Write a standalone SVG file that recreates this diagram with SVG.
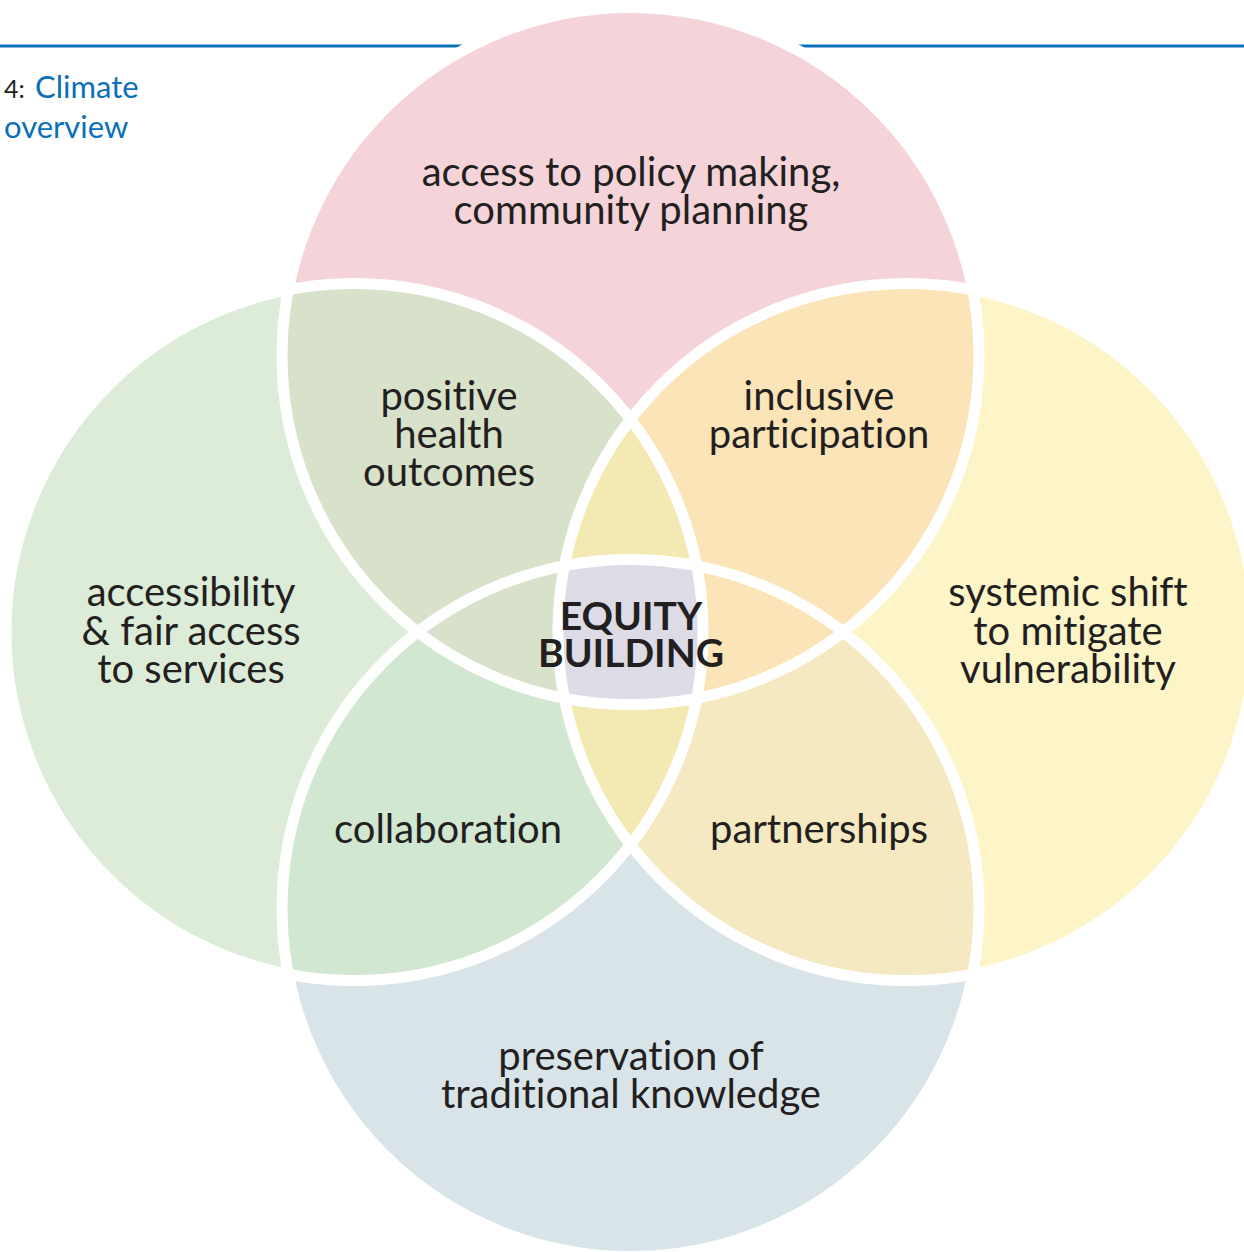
<svg xmlns="http://www.w3.org/2000/svg" width="1244" height="1252" viewBox="0 0 1244 1252">
  <style>
    text { font-variant-ligatures: none; font-feature-settings: "liga" 0, "dlig" 0; }
    .lbl { font-family: Lato, "Noto Sans", "Liberation Sans", sans-serif; font-size: 40px; fill: #231f20; text-anchor: middle; }
    .core { font-family: Lato, "Noto Sans", "Liberation Sans", sans-serif; font-size: 39px; font-weight: bold; fill: #231f20; text-anchor: middle; }
    .ring { fill: none; stroke: #ffffff; stroke-width: 11; }
    .head { font-family: Lato, "Noto Sans", "Liberation Sans", sans-serif; }
  </style>
  <defs>
    <clipPath id="cT"><circle cx="630.5" cy="356" r="348.5"/></clipPath>
    <clipPath id="cL"><circle cx="354.5" cy="632" r="348.5"/></clipPath>
    <clipPath id="cR"><circle cx="906.5" cy="632" r="348.5"/></clipPath>
    <clipPath id="cB"><circle cx="630.5" cy="908" r="348.5"/></clipPath>
  </defs>

  <rect width="1244" height="1252" fill="#ffffff"/>

  <!-- header rule and chapter label -->
  <line x1="0" y1="46" x2="1244" y2="46" stroke="#0a70b9" stroke-width="3"/>
  <text class="head" x="4" y="98" font-size="25" fill="#231f20">4:</text>
  <text class="head" x="35" y="98" font-size="31" fill="#0a70b9">Climate</text>
  <text class="head" x="4" y="138" font-size="31" fill="#0a70b9">overview</text>

  <!-- four overlapping circles -->
  <g id="circle-top"><circle cx="630.5" cy="356" r="348.5" fill="#f4d4d9"/></g>
  <g id="circle-left"><circle cx="354.5" cy="632" r="348.5" fill="#dcecd8"/></g>
  <g id="circle-right"><circle cx="906.5" cy="632" r="348.5" fill="#fdf4c8"/></g>
  <g id="circle-bottom"><circle cx="630.5" cy="908" r="348.5" fill="#d9e4e8"/></g>

  <!-- pairwise overlaps -->
  <g id="overlap-top-left" clip-path="url(#cT)"><circle cx="354.5" cy="632" r="348.5" fill="#d8e1c9"/></g>
  <g id="overlap-top-right" clip-path="url(#cT)"><circle cx="906.5" cy="632" r="348.5" fill="#fbe4b7"/></g>
  <g id="overlap-bottom-left" clip-path="url(#cB)"><circle cx="354.5" cy="632" r="348.5" fill="#d2e7d2"/></g>
  <g id="overlap-bottom-right" clip-path="url(#cB)"><circle cx="906.5" cy="632" r="348.5" fill="#f4e9c1"/></g>
  <g id="overlap-left-right" clip-path="url(#cL)"><circle cx="906.5" cy="632" r="348.5" fill="#f3eab3"/></g>
  <g id="overlap-top-bottom-left" clip-path="url(#cT)"><circle cx="630.5" cy="908" r="348.5" fill="#d8e1c9" clip-path="url(#cL)"/></g>
  <g id="overlap-top-bottom-right" clip-path="url(#cT)"><circle cx="630.5" cy="908" r="348.5" fill="#fbe4b7" clip-path="url(#cR)"/></g>
  <g id="overlap-all" clip-path="url(#cT)"><g clip-path="url(#cB)"><circle cx="354.5" cy="632" r="348.5" fill="#dcdbe6" clip-path="url(#cR)"/></g></g>

  <!-- white outlines drawn over every fill -->
  <g id="outlines">
    <circle class="ring" cx="630.5" cy="356" r="348.5"/>
    <circle class="ring" cx="354.5" cy="632" r="348.5"/>
    <circle class="ring" cx="906.5" cy="632" r="348.5"/>
    <circle class="ring" cx="630.5" cy="908" r="348.5"/>
  </g>

  <!-- labels -->
  <g id="label-top"><text class="lbl" x="631" y="186">access to policy making,</text><text class="lbl" x="631" y="224">community planning</text></g>
  <g id="label-top-left"><text class="lbl" x="449" y="410">positive</text><text class="lbl" x="449" y="448">health</text><text class="lbl" x="449" y="486">outcomes</text></g>
  <g id="label-top-right"><text class="lbl" x="819" y="410">inclusive</text><text class="lbl" x="819" y="448">participation</text></g>
  <g id="label-left"><text class="lbl" x="191" y="606">accessibility</text><text class="lbl" x="191" y="645">&amp; fair access</text><text class="lbl" x="191" y="683">to services</text></g>
  <g id="label-right"><text class="lbl" x="1068" y="606">systemic shift</text><text class="lbl" x="1068" y="645">to mitigate</text><text class="lbl" x="1068" y="683">vulnerability</text></g>
  <g id="label-center"><text class="core" x="631" y="630">EQUITY</text><text class="core" x="631" y="667">BUILDING</text></g>
  <g id="label-bottom-left"><text class="lbl" x="448" y="843">collaboration</text></g>
  <g id="label-bottom-right"><text class="lbl" x="819" y="843">partnerships</text></g>
  <g id="label-bottom"><text class="lbl" x="631" y="1070">preservation of</text><text class="lbl" x="631" y="1108">traditional knowledge</text></g>
</svg>
